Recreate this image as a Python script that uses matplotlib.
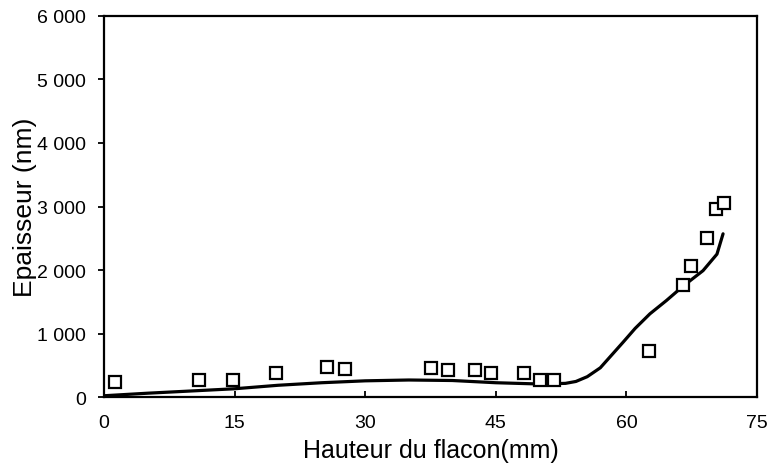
import matplotlib
matplotlib.use("Agg")
import matplotlib.pyplot as plt
from matplotlib.ticker import FuncFormatter

plt.rcParams['font.family'] = ['Liberation Sans', 'DejaVu Sans']

# measured thickness along the vial
hauteur = [1.3, 10.9, 14.8, 19.8, 25.6, 27.7, 37.6, 39.5, 42.6, 44.4,
           48.2, 50.1, 51.7, 62.6, 66.5, 67.4, 69.3, 70.3, 71.2]
epaisseur = [240, 268, 268, 378, 472, 441, 457, 425, 425, 378,
             378, 268, 268, 724, 1764, 2063, 2504, 2961, 3055]

# fitted trend
fit_x = [0, 5, 10, 15, 20, 25, 30, 35, 40, 45, 50, 53, 54.2, 55.5, 57,
         59.6, 61, 62.7, 64.6, 66.5, 68.8, 70.4, 71.1]
fit_y = [20, 60, 95, 130, 185, 225, 255, 268, 260, 225, 205, 215, 245, 320, 460,
         860, 1080, 1310, 1520, 1745, 1990, 2250, 2570]

x_ticks = [0, 15, 30, 45, 60, 75]
y_ticks = [0, 1000, 2000, 3000, 4000, 5000, 6000]

fig = plt.figure(figsize=(7.68, 4.64), dpi=100)
ax = fig.add_axes([0.1354, 0.1422, 0.8503, 0.8212])

ax.plot(fit_x, fit_y, color='black', lw=2.3, solid_capstyle='round', zorder=2)
ax.plot(hauteur, epaisseur, ls='none', marker='s', ms=8.5, mfc='white',
        mec='black', mew=1.6, zorder=3)

ax.set_xlim(0, 75)
ax.set_ylim(0, 6000)
ax.set_xticks(x_ticks)
ax.set_yticks(y_ticks)
ax.yaxis.set_major_formatter(FuncFormatter(lambda v, p: f"{int(v):,}".replace(",", " ")))

ax.tick_params(axis='x', direction='in', length=4, width=1.3, labelsize=14, pad=12)
ax.tick_params(axis='y', direction='out', length=4, width=1.3, labelsize=14, pad=9)
for s in ax.spines.values():
    s.set_linewidth(1.6)

ax.set_xlabel("Hauteur du flacon(mm)", fontsize=18)
ax.xaxis.set_label_coords(0.5, -0.108)
ax.set_ylabel("Epaisseur (nm)", fontsize=19)
ax.yaxis.set_label_coords(-0.103, 0.5)

fig.savefig("out.png", dpi=100)
